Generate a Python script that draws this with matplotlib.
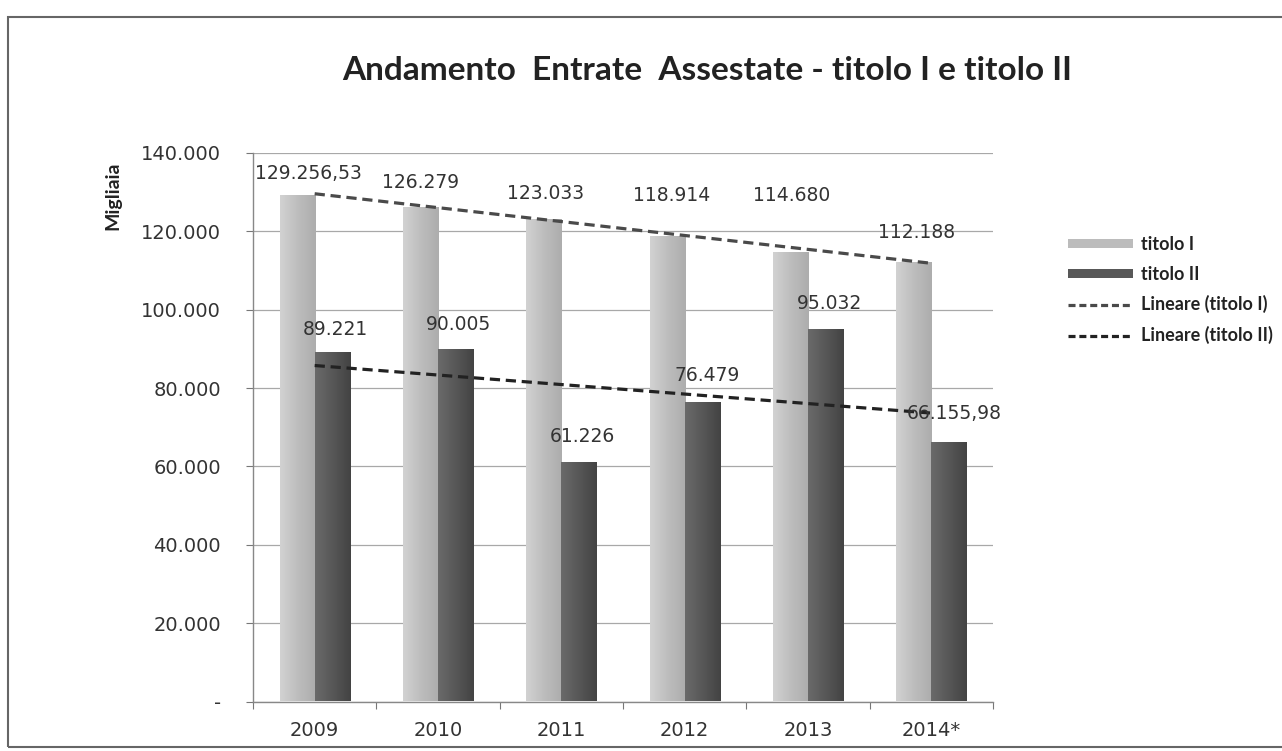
import numpy as np
import matplotlib
matplotlib.use("Agg")
import matplotlib.pyplot as plt
from matplotlib.patches import Patch, Rectangle
from matplotlib.lines import Line2D
from matplotlib.ticker import FixedLocator, FuncFormatter
from matplotlib.colors import LinearSegmentedColormap

# data (migliaia di euro)
anni = ["2009", "2010", "2011", "2012", "2013", "2014*"]
titolo_1 = [129256.53, 126279, 123033, 118914, 114680, 112188]
titolo_2 = [89221, 90005, 61226, 76479, 95032, 66155.98]
etichette_1 = ["129.256,53", "126.279", "123.033", "118.914", "114.680", "112.188"]
etichette_2 = ["89.221", "90.005", "61.226", "76.479", "95.032", "66.155,98"]

# label offsets in pixels (dx, dy) from bar top, as placed by hand in the original
off_1 = [(11, 22), (0, 24), (2, 26), (4, 40), (1, 57), (3, 29)]
off_2 = [(3, 22), (3, 24), (4, 25), (5, 26), (4, 26), (5, 29)]

c1 = "#bcbcbc"
c2 = "#585858"
grad_1 = LinearSegmentedColormap.from_list("g1", ["#d2d2d2", "#bdbdbd", "#adadad"])
grad_2 = LinearSegmentedColormap.from_list("g2", ["#6a6a6a", "#575757", "#434343"])

fig = plt.figure(figsize=(12.82, 7.51), dpi=100)
fig.patch.set_facecolor("white")
ax = fig.add_axes([253 / 1282, 49.5 / 751, 740 / 1282, 548.5 / 751])

x = np.arange(len(anni))
w = 0.284
bars_1 = ax.bar(x - w / 2, titolo_1, width=w, color="none", zorder=3)
bars_2 = ax.bar(x + w / 2, titolo_2, width=w, color="none", zorder=3)

# horizontal gradient fill inside every bar (Excel style shading)
ramp = np.linspace(0, 1, 64).reshape(1, -1)
for bars, cm in [(bars_1, grad_1), (bars_2, grad_2)]:
    for b in bars:
        x0, y0 = b.get_x(), b.get_y()
        im = ax.imshow(ramp, cmap=cm, aspect="auto", zorder=3,
                       extent=[x0, x0 + b.get_width(), y0, y0 + b.get_height()])
        im.set_clip_path(b)

# linear trend lines (like Excel "Lineare")
p1 = np.polyfit(x, titolo_1, 1)
p2 = np.polyfit(x, titolo_2, 1)
xt = np.array([x[0], x[-1]])
ax.plot(xt, np.polyval(p1, xt), color="#4a4a4a", lw=2.3, dashes=(3.2, 1.8), zorder=4)
ax.plot(xt, np.polyval(p2, xt), color="#222222", lw=2.3, dashes=(3.2, 1.8), zorder=4)

for i in range(len(anni)):
    ax.annotate(etichette_1[i], (x[i] - w / 2, titolo_1[i]), xytext=off_1[i],
                textcoords="offset pixels", ha="center", va="center",
                fontsize=13.5, color="#333333", zorder=5)
    ax.annotate(etichette_2[i], (x[i] + w / 2, titolo_2[i]), xytext=off_2[i],
                textcoords="offset pixels", ha="center", va="center",
                fontsize=13.5, color="#333333", zorder=5)

ax.set_xlim(-0.5, len(anni) - 0.5)
ax.set_ylim(0, 140000)
ax.yaxis.set_major_locator(FixedLocator(np.arange(0, 140001, 20000)))
ax.yaxis.set_major_formatter(FuncFormatter(
    lambda v, p: "-" if v == 0 else f"{int(v):,}".replace(",", ".")))
ax.grid(axis="y", color="#a8a8a8", lw=0.9, zorder=0)

# category boundaries get the ticks, labels sit in the middle
ax.xaxis.set_major_locator(FixedLocator(np.arange(-0.5, len(anni), 1)))
ax.xaxis.set_major_formatter(FuncFormatter(lambda v, p: ""))
ax.xaxis.set_minor_locator(FixedLocator(x))
ax.set_xticklabels(anni, minor=True)
ax.tick_params(axis="x", which="major", length=5, color="#777777", direction="out")
ax.tick_params(axis="x", which="minor", length=0, pad=14, labelsize=14, labelcolor="#333333")
ax.tick_params(axis="y", length=5, color="#777777", pad=18, labelsize=14, labelcolor="#333333")

for s in ["top", "right"]:
    ax.spines[s].set_visible(False)
for s in ["left", "bottom"]:
    ax.spines[s].set_color("#888888")
    ax.spines[s].set_linewidth(1.0)

fig.text(113 / 1282, 1 - 196 / 751, "Migliaia", rotation=90, ha="center", va="center",
         fontsize=14, fontweight="bold", family="Lato", color="#222222")

fig.text(707 / 1282, 1 - 71 / 751, "Andamento  Entrate  Assestate - titolo I e titolo II",
         ha="center", va="center", fontsize=24, fontweight="bold", family="Lato", color="#222222")

handles = [
    Patch(facecolor=c1, edgecolor="none"),
    Patch(facecolor=c2, edgecolor="none"),
    Line2D([], [], color="#4a4a4a", lw=2.3, dashes=(2.2, 1.2)),
    Line2D([], [], color="#222222", lw=2.3, dashes=(2.2, 1.2)),
]
labels = ["titolo I", "titolo II", "Lineare (titolo I)", "Lineare (titolo II)"]
fig.legend(handles, labels, loc="upper left", bbox_to_anchor=(1068 / 1282, 1 - 236 / 751),
           frameon=False, borderpad=0, borderaxespad=0, handlelength=3.6, handleheight=0.4,
           handletextpad=0.45, labelspacing=0.7,
           prop={"family": "Lato", "size": 13, "weight": "bold"}, labelcolor="#222222")

# outer chart frame
fig.patches.append(Rectangle((8 / 1282, 4 / 751), 1.05, 1 - 17 / 751 - 4 / 751,
                             transform=fig.transFigure, fill=False,
                             edgecolor="#666666", lw=1.5))

fig.savefig("out.png", dpi=100)
